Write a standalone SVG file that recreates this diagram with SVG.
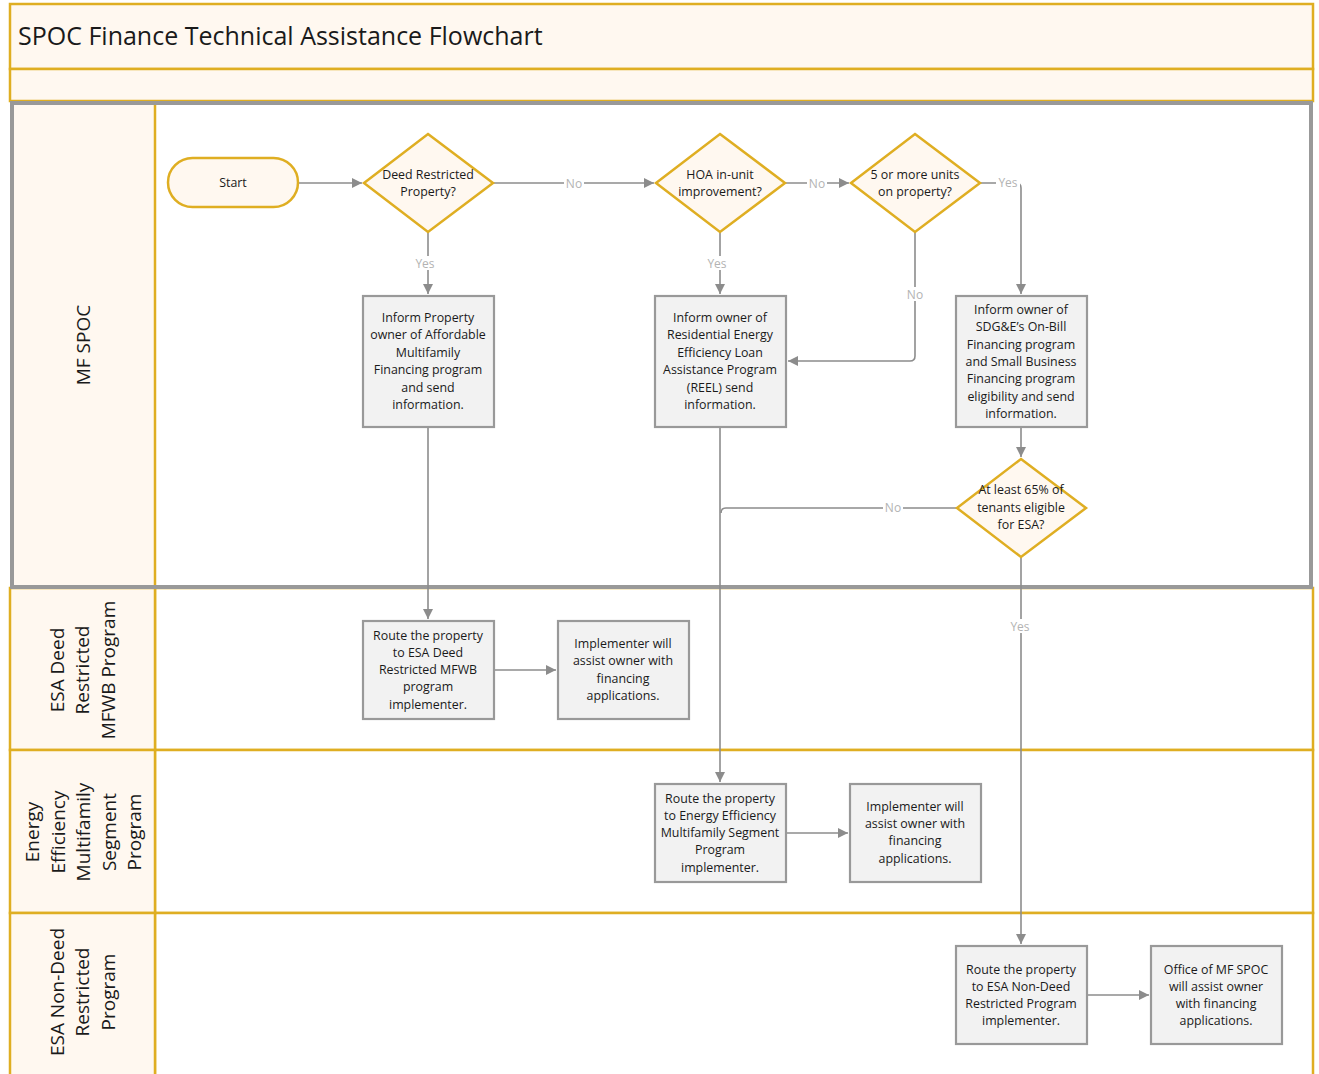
<svg xmlns="http://www.w3.org/2000/svg" width="1319" height="1074" viewBox="0 0 1319 1074">
<defs>
<style>
.lane{fill:#fff8f0;stroke:#dfae22;stroke-width:2.5}
.body{fill:#ffffff;stroke:#dfae22;stroke-width:2.5}
.dia{fill:#fff8f0;stroke:#dfae22;stroke-width:2.5}
.box{fill:#f2f2f2;stroke:#999999;stroke-width:2.2}
.t{font-family:"Open Sans","Liberation Sans",sans-serif;font-size:12.4px;fill:#1a1a1a;text-anchor:middle;dominant-baseline:central}
.lt{font-family:"Open Sans","Liberation Sans",sans-serif;font-size:19px;fill:#1a1a1a;text-anchor:middle;dominant-baseline:central}
.title{font-family:"Open Sans","Liberation Sans",sans-serif;font-size:25px;fill:#1a1a1a;dominant-baseline:central}
.c{fill:none;stroke:#8c8c8c;stroke-width:1.6}
.lbl{font-family:"Open Sans","Liberation Sans",sans-serif;font-size:12px;fill:#b3b3b3;text-anchor:middle;dominant-baseline:central}
.lb{fill:#ffffff}
</style>
<marker id="arr" markerWidth="12" markerHeight="12" refX="10" refY="5" orient="auto" markerUnits="userSpaceOnUse">
<path d="M0,0 L10,5 L0,10 z" fill="#8c8c8c"/>
</marker>
</defs>

<!-- frame -->
<g id="frame">
<rect x="10" y="4" width="1303" height="65" class="lane"/>
<rect x="10" y="69" width="1303" height="32" class="lane"/>
<text x="18" y="35" class="title">SPOC Finance Technical Assistance Flowchart</text>
<rect x="155" y="588" width="1158" height="162" class="body"/>
<rect x="155" y="750" width="1158" height="163" class="body"/>
<rect x="155" y="913" width="1158" height="175" class="body"/>
<rect x="10" y="588" width="145" height="162" class="lane"/>
<rect x="10" y="750" width="145" height="163" class="lane"/>
<rect x="10" y="913" width="145" height="175" class="lane"/>
<rect x="155" y="103" width="1156" height="485" fill="#ffffff"/>
<rect x="12" y="103" width="143" height="485" fill="#fff8f0"/>
<line x1="155" y1="103" x2="155" y2="588" stroke="#dfae22" stroke-width="2.5"/>
<rect x="12" y="103" width="1299" height="484" fill="none" stroke="#999999" stroke-width="4"/>
</g>

<g id="lane-labels">
<text class="lt" transform="translate(83,345) rotate(-90)">MF SPOC</text>
<text class="lt" transform="translate(82,670) rotate(-90)"><tspan x="0" dy="-25.5">ESA Deed</tspan><tspan x="0" dy="25.5">Restricted</tspan><tspan x="0" dy="25.5">MFWB Program</tspan></text>
<text class="lt" transform="translate(83,832) rotate(-90)"><tspan x="0" dy="-51">Energy</tspan><tspan x="0" dy="25.5">Efficiency</tspan><tspan x="0" dy="25.5">Multifamily</tspan><tspan x="0" dy="25.5">Segment</tspan><tspan x="0" dy="25.5">Program</tspan></text>
<text class="lt" transform="translate(82,992) rotate(-90)"><tspan x="0" dy="-25.5">ESA Non-Deed</tspan><tspan x="0" dy="25.5">Restricted</tspan><tspan x="0" dy="25.5">Program</tspan></text>
</g>

<!-- connectors -->
<g id="connectors">
<path class="c" d="M298,183 H362" marker-end="url(#arr)"/>
<path class="c" d="M493,183 H654" marker-end="url(#arr)"/>
<path class="c" d="M785,183 H849" marker-end="url(#arr)"/>
<path class="c" d="M980,183 H1016 Q1021,183 1021,188 V294" marker-end="url(#arr)"/>
<path class="c" d="M915,232 V356 Q915,361 910,361 H788" marker-end="url(#arr)"/>
<path class="c" d="M428,232 V294" marker-end="url(#arr)"/>
<path class="c" d="M720,232 V294" marker-end="url(#arr)"/>
<path class="c" d="M428,427 V619" marker-end="url(#arr)"/>
<path class="c" d="M720,427 V782" marker-end="url(#arr)"/>
<path class="c" d="M1021,427 V457" marker-end="url(#arr)"/>
<path class="c" d="M957,508 H726 Q721,508 721,513"/>
<path class="c" d="M1021,557 V944" marker-end="url(#arr)"/>
<path class="c" d="M494,670 H556" marker-end="url(#arr)"/>
<path class="c" d="M786,833 H848" marker-end="url(#arr)"/>
<path class="c" d="M1087,995 H1149" marker-end="url(#arr)"/>
<rect class="lb" x="564" y="176" width="20" height="14"/><text class="lbl" x="574" y="183">No</text>
<rect class="lb" x="807" y="176" width="20" height="14"/><text class="lbl" x="817" y="183">No</text>
<rect class="lb" x="996" y="175" width="24" height="14"/><text class="lbl" x="1008" y="182">Yes</text>
<rect class="lb" x="905" y="287" width="20" height="14"/><text class="lbl" x="915" y="294">No</text>
<rect class="lb" x="413" y="256" width="24" height="14"/><text class="lbl" x="425" y="263">Yes</text>
<rect class="lb" x="705" y="256" width="24" height="14"/><text class="lbl" x="717" y="263">Yes</text>
<rect class="lb" x="883" y="500" width="20" height="14"/><text class="lbl" x="893" y="507">No</text>
<rect class="lb" x="1008" y="619" width="24" height="14"/><text class="lbl" x="1020" y="626">Yes</text>
</g>

<g id="start">
<rect x="168" y="158" width="130" height="49" rx="24.5" class="dia"/>
<text class="t" x="233" y="182">Start</text>
</g>

<g id="d-deed">
<polygon points="428,134 493,183 428,232 364,183" class="dia"/>
<text class="t" x="428" y="174">Deed Restricted</text>
<text class="t" x="428" y="191">Property?</text>
</g>

<g id="d-hoa">
<polygon points="720,134 785,183 720,232 656,183" class="dia"/>
<text class="t" x="720" y="174">HOA in-unit</text>
<text class="t" x="720" y="191">improvement?</text>
</g>

<g id="d-units">
<polygon points="915,134 980,183 915,232 851,183" class="dia"/>
<text class="t" x="915" y="174">5 or more units</text>
<text class="t" x="915" y="191">on property?</text>
</g>

<g id="d-65">
<polygon points="1021,459 1086,508 1021,557 957,508" class="dia"/>
<text class="t" x="1021" y="489">At least 65% of</text>
<text class="t" x="1021" y="507">tenants eligible</text>
<text class="t" x="1021" y="524">for ESA?</text>
</g>

<g id="b-affordable">
<rect x="363" y="296" width="131" height="131" class="box"/>
<text class="t" x="428" y="317">Inform Property</text>
<text class="t" x="428" y="334.5">owner of Affordable</text>
<text class="t" x="428" y="352">Multifamily</text>
<text class="t" x="428" y="369.5">Financing program</text>
<text class="t" x="428" y="387">and send</text>
<text class="t" x="428" y="404">information.</text>
</g>

<g id="b-reel">
<rect x="655" y="296" width="131" height="131" class="box"/>
<text class="t" x="720" y="317">Inform owner of</text>
<text class="t" x="720" y="334.5">Residential Energy</text>
<text class="t" x="720" y="352">Efficiency Loan</text>
<text class="t" x="720" y="369.5">Assistance Program</text>
<text class="t" x="720" y="387">(REEL) send</text>
<text class="t" x="720" y="404">information.</text>
</g>

<g id="b-obf">
<rect x="956" y="296" width="131" height="131" class="box"/>
<text class="t" x="1021" y="309">Inform owner of</text>
<text class="t" x="1021" y="326.5">SDG&amp;E’s On-Bill</text>
<text class="t" x="1021" y="344">Financing program</text>
<text class="t" x="1021" y="361">and Small Business</text>
<text class="t" x="1021" y="378.5">Financing program</text>
<text class="t" x="1021" y="396">eligibility and send</text>
<text class="t" x="1021" y="413">information.</text>
</g>

<g id="b-route-mfwb">
<rect x="363" y="621" width="131" height="98" class="box"/>
<text class="t" x="428" y="635">Route the property</text>
<text class="t" x="428" y="652">to ESA Deed</text>
<text class="t" x="428" y="669">Restricted MFWB</text>
<text class="t" x="428" y="686.5">program</text>
<text class="t" x="428" y="704">implementer.</text>
</g>

<g id="b-impl-mfwb">
<rect x="558" y="621" width="131" height="98" class="box"/>
<text class="t" x="623" y="643">Implementer will</text>
<text class="t" x="623" y="660.5">assist owner with</text>
<text class="t" x="623" y="678">financing</text>
<text class="t" x="623" y="695">applications.</text>
</g>

<g id="b-route-ee">
<rect x="655" y="784" width="131" height="98" class="box"/>
<text class="t" x="720" y="798">Route the property</text>
<text class="t" x="720" y="815">to Energy Efficiency</text>
<text class="t" x="720" y="832">Multifamily Segment</text>
<text class="t" x="720" y="849.5">Program</text>
<text class="t" x="720" y="867">implementer.</text>
</g>

<g id="b-impl-ee">
<rect x="850" y="784" width="131" height="98" class="box"/>
<text class="t" x="915" y="806">Implementer will</text>
<text class="t" x="915" y="823">assist owner with</text>
<text class="t" x="915" y="840.5">financing</text>
<text class="t" x="915" y="858">applications.</text>
</g>

<g id="b-route-nondeed">
<rect x="956" y="946" width="131" height="98" class="box"/>
<text class="t" x="1021" y="969">Route the property</text>
<text class="t" x="1021" y="986">to ESA Non-Deed</text>
<text class="t" x="1021" y="1003">Restricted Program</text>
<text class="t" x="1021" y="1020">implementer.</text>
</g>

<g id="b-office">
<rect x="1151" y="946" width="131" height="98" class="box"/>
<text class="t" x="1216" y="969">Office of MF SPOC</text>
<text class="t" x="1216" y="986">will assist owner</text>
<text class="t" x="1216" y="1003">with financing</text>
<text class="t" x="1216" y="1020">applications.</text>
</g>
</svg>
